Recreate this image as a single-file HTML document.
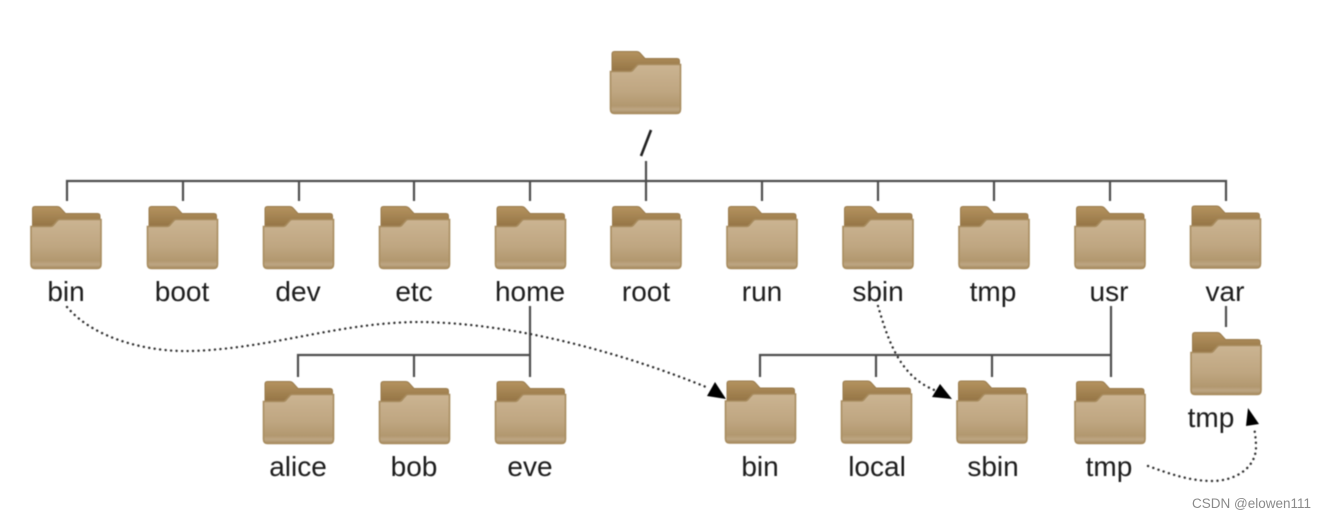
<!DOCTYPE html>
<html><head><meta charset="utf-8">
<style>
html,body{margin:0;padding:0;background:#fff;width:1335px;height:518px;overflow:hidden}
svg{display:block}
.t{font-family:"Liberation Sans",sans-serif;font-size:28px;fill:#1a1a1a;text-anchor:middle}
.l{stroke:#4d4d4d;stroke-width:2.200;fill:none}
.d{stroke:#333;stroke-width:2.400;stroke-dasharray:0.1 5.400;stroke-linecap:round;fill:none}
</style></head><body>
<svg width="1335" height="518" viewBox="0 0 1335 518" xmlns="http://www.w3.org/2000/svg">
<defs>
<filter id="s" x="-2%" y="-2%" width="104%" height="104%"><feGaussianBlur stdDeviation="0.600"/></filter>
<linearGradient id="g" x1="0" y1="0" x2="0" y2="1">
<stop offset="0" stop-color="#cbb492"/><stop offset=".55" stop-color="#bfa681"/><stop offset=".84" stop-color="#b2986f"/><stop offset=".92" stop-color="#bda683"/><stop offset="1" stop-color="#a58a60"/>
</linearGradient>
<linearGradient id="b" x1="0" y1="0" x2="0" y2="1">
<stop offset="0" stop-color="#b4935f"/><stop offset="1" stop-color="#8f6f41"/>
</linearGradient>
<symbol id="f" width="72" height="64" viewBox="0 0 72 64" overflow="visible">
<path d="M2.500 3Q2.500 .5 5 .5H27Q29 .5 30.500 2L35.500 7.500H67.500Q70 7.500 70 10V24H2.500Z" fill="url(#b)" stroke="#9a7b4d" stroke-width="1"/>
<path d="M1 20.500H20.500Q22.500 20.500 24 18.500L27 15Q28 13.500 30 13.500H71V58Q71 62.500 67 62.500H5Q1 62.500 1 58Z" fill="url(#g)" stroke="#a88c5e" stroke-width="1.600"/>
</symbol>
</defs>
<g filter="url(#s)">
<g class="l">
<path d="M67 201V181H1226V201M183 181V201M299 181V201M414 181V201M530 181V201M646 161V201M762 181V201M878 181V201M994 181V201M1110 181V201"/>
<path d="M530 306V377M298 377V355H530M414 355V377"/>
<path d="M1111 306V377M760 377V355H1111M876 355V377M992 355V377"/>
<path d="M1226 306V327"/>
</g>
<path d="M651 130L641 156" stroke="#222" stroke-width="2.600" fill="none"/>
<g>
<use href="#f" x="609.500" y="51"/>
<use href="#f" x="30" y="206"/><use href="#f" x="146.500" y="206"/><use href="#f" x="262.500" y="206"/><use href="#f" x="378.500" y="206"/><use href="#f" x="494.500" y="206"/><use href="#f" x="610" y="206"/><use href="#f" x="726" y="206"/><use href="#f" x="842" y="206"/><use href="#f" x="958" y="206"/><use href="#f" x="1074" y="206"/><use href="#f" x="1189.500" y="205.500"/>
<use href="#f" x="262.500" y="381"/><use href="#f" x="378.500" y="381"/><use href="#f" x="494.500" y="381"/>
<use href="#f" x="724.500" y="380.500"/><use href="#f" x="840.500" y="380.500"/><use href="#f" x="956" y="380.500"/><use href="#f" x="1074" y="381"/>
<use href="#f" x="1190" y="332"/>
</g>
<path class="d" d="M67 307C95 340 150 352 190 351C270 349 340 322 420 322C520 323 630 356 706 387"/>
<path class="d" d="M878 306C888 340 900 378 937 391"/>
<path class="d" d="M1148 466C1170 474 1190 481 1212 481C1235 481 1256 468 1256 447C1256 440 1255 433 1254 427"/>
<path d="M726 399L707 396L715 382Z" fill="#000"/>
<path d="M952 399L932 397L940 384Z" fill="#000"/>
<path d="M1248 408L1259 424L1246 426Z" fill="#000"/>
<g class="t">
<text x="66" y="301">bin</text><text x="182" y="301">boot</text><text x="298" y="301">dev</text><text x="414" y="301">etc</text><text x="530" y="301">home</text><text x="646" y="301">root</text><text x="762" y="301">run</text><text x="878" y="301">sbin</text><text x="993" y="301">tmp</text><text x="1109" y="301">usr</text><text x="1225" y="301">var</text>
<text x="298" y="476">alice</text><text x="414" y="476">bob</text><text x="530" y="476">eve</text>
<text x="760" y="476">bin</text><text x="877" y="476">local</text><text x="993" y="476">sbin</text><text x="1109" y="476">tmp</text>
<text x="1211" y="427">tmp</text>
</g>
</g>
<text x="1192" y="508" font-family="Liberation Sans,sans-serif" font-size="13.500" fill="#8a8a8a">CSDN @elowen111</text>
</svg>
</body></html>
